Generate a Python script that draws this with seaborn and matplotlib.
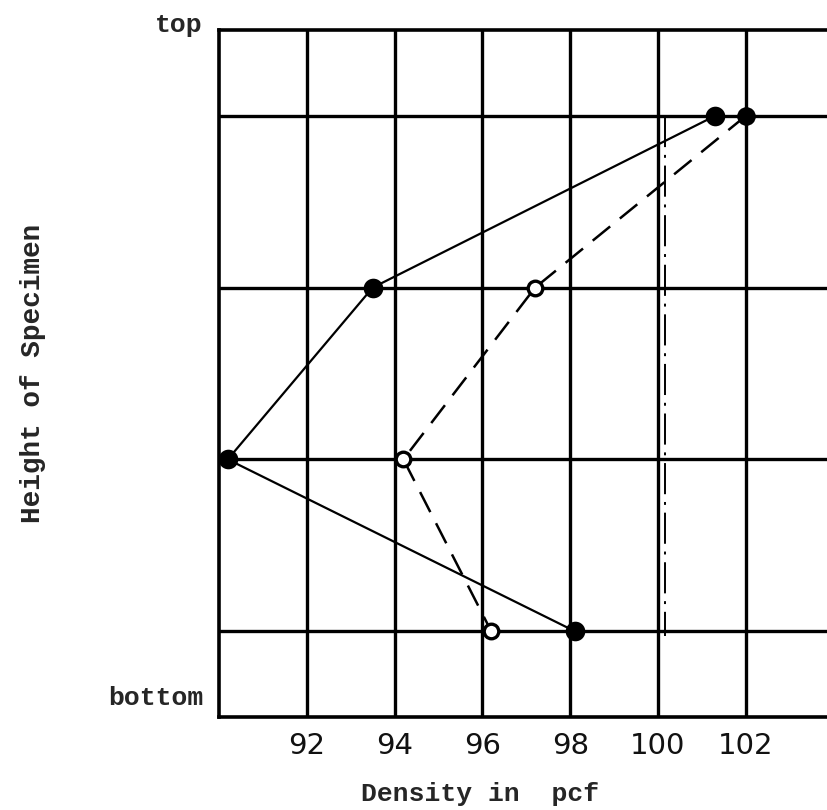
import matplotlib
matplotlib.use("Agg")
import matplotlib.pyplot as plt
import seaborn as sns
import pandas as pd

# Density measured at four heights of the specimen (1 = lowest slice, 4 = highest)
heights = [4, 3, 2, 1]
density_solid = [101.3, 93.5, 90.2, 98.1]
density_dashed = [102.0, 97.2, 94.2, 96.2]
dashed_filled = [True, False, False, False]
reference_density = 100.15
reference_heights = [4, 0.97]
x_tick_values = [92, 94, 96, 98, 100, 102]
x_tick_labels = ["92", "94", "96", "98", "100", "102"]

sns.set_theme(style="white")
plt.rcParams["font.family"] = ["DejaVu Sans"]

fig = plt.figure(figsize=(8.27, 8.10), dpi=100)
ax = fig.add_axes([219 / 827, 93 / 810, (827 - 219) / 827, (717 - 30) / 810])

ax.set_xlim(90, 90 + 608 / 43.9)
ax.set_ylim(0.5, 4.5)

# heavy hand-ruled grid
ax.set_xticks(x_tick_values)
ax.set_xticklabels(x_tick_labels)
ax.set_yticks([1, 2, 3, 4])
ax.set_yticklabels([])
ax.grid(True, color="black", linewidth=2.4)
ax.tick_params(axis="both", length=0, pad=11)
ax.tick_params(axis="x", labelsize=21, labelcolor="#111111")
for lbl in ax.get_xticklabels():
    lbl.set_family("Liberation Sans Narrow")
for side in ["left", "top", "bottom"]:
    ax.spines[side].set_color("black")
    ax.spines[side].set_linewidth(2.6)
ax.spines["right"].set_visible(False)

solid = pd.DataFrame({"density": density_solid, "height": heights})
dashed = pd.DataFrame({"density": density_dashed, "height": heights, "filled": dashed_filled})

# solid profile with filled dots
sns.lineplot(data=solid, x="density", y="height", sort=False, estimator=None,
             color="black", linewidth=1.6, ax=ax)
sns.scatterplot(data=solid, x="density", y="height", color="black", s=200,
                edgecolor="black", linewidth=0, ax=ax, zorder=5)

# dashed profile with open circles
sns.lineplot(data=dashed, x="density", y="height", sort=False, estimator=None,
             color="black", linewidth=1.8, dashes=False, ax=ax)
ax.lines[-1].set_dashes((9, 5))
sns.scatterplot(data=dashed[~dashed["filled"]], x="density", y="height", s=110,
                facecolor="white", edgecolor="black", linewidth=2.4, ax=ax, zorder=5)
sns.scatterplot(data=dashed[dashed["filled"]], x="density", y="height", s=180,
                color="black", linewidth=0, ax=ax, zorder=5)

# dash-dot reference density
ax.plot([reference_density, reference_density], reference_heights, color="black",
        linewidth=1.4, dashes=(16, 4, 1.5, 4))

ax.set_xlabel("Density in  pcf", fontsize=19, family="Liberation Mono",
              fontweight="bold", labelpad=16, x=(480 - 219) / 608)
ax.set_ylabel("Height of Specimen", fontsize=20, family="Liberation Mono",
              fontweight="bold", labelpad=0)
ax.yaxis.set_label_coords(-0.285, 0.5)

ax.text(-0.027, 1.007, "top", transform=ax.transAxes, ha="right", va="center",
        fontsize=19, family="Liberation Mono", fontweight="bold")
ax.text(-0.025, 0.027, "bottom", transform=ax.transAxes, ha="right", va="center",
        fontsize=19, family="Liberation Mono", fontweight="bold")

fig.savefig("out.png", dpi=100, facecolor="white")
